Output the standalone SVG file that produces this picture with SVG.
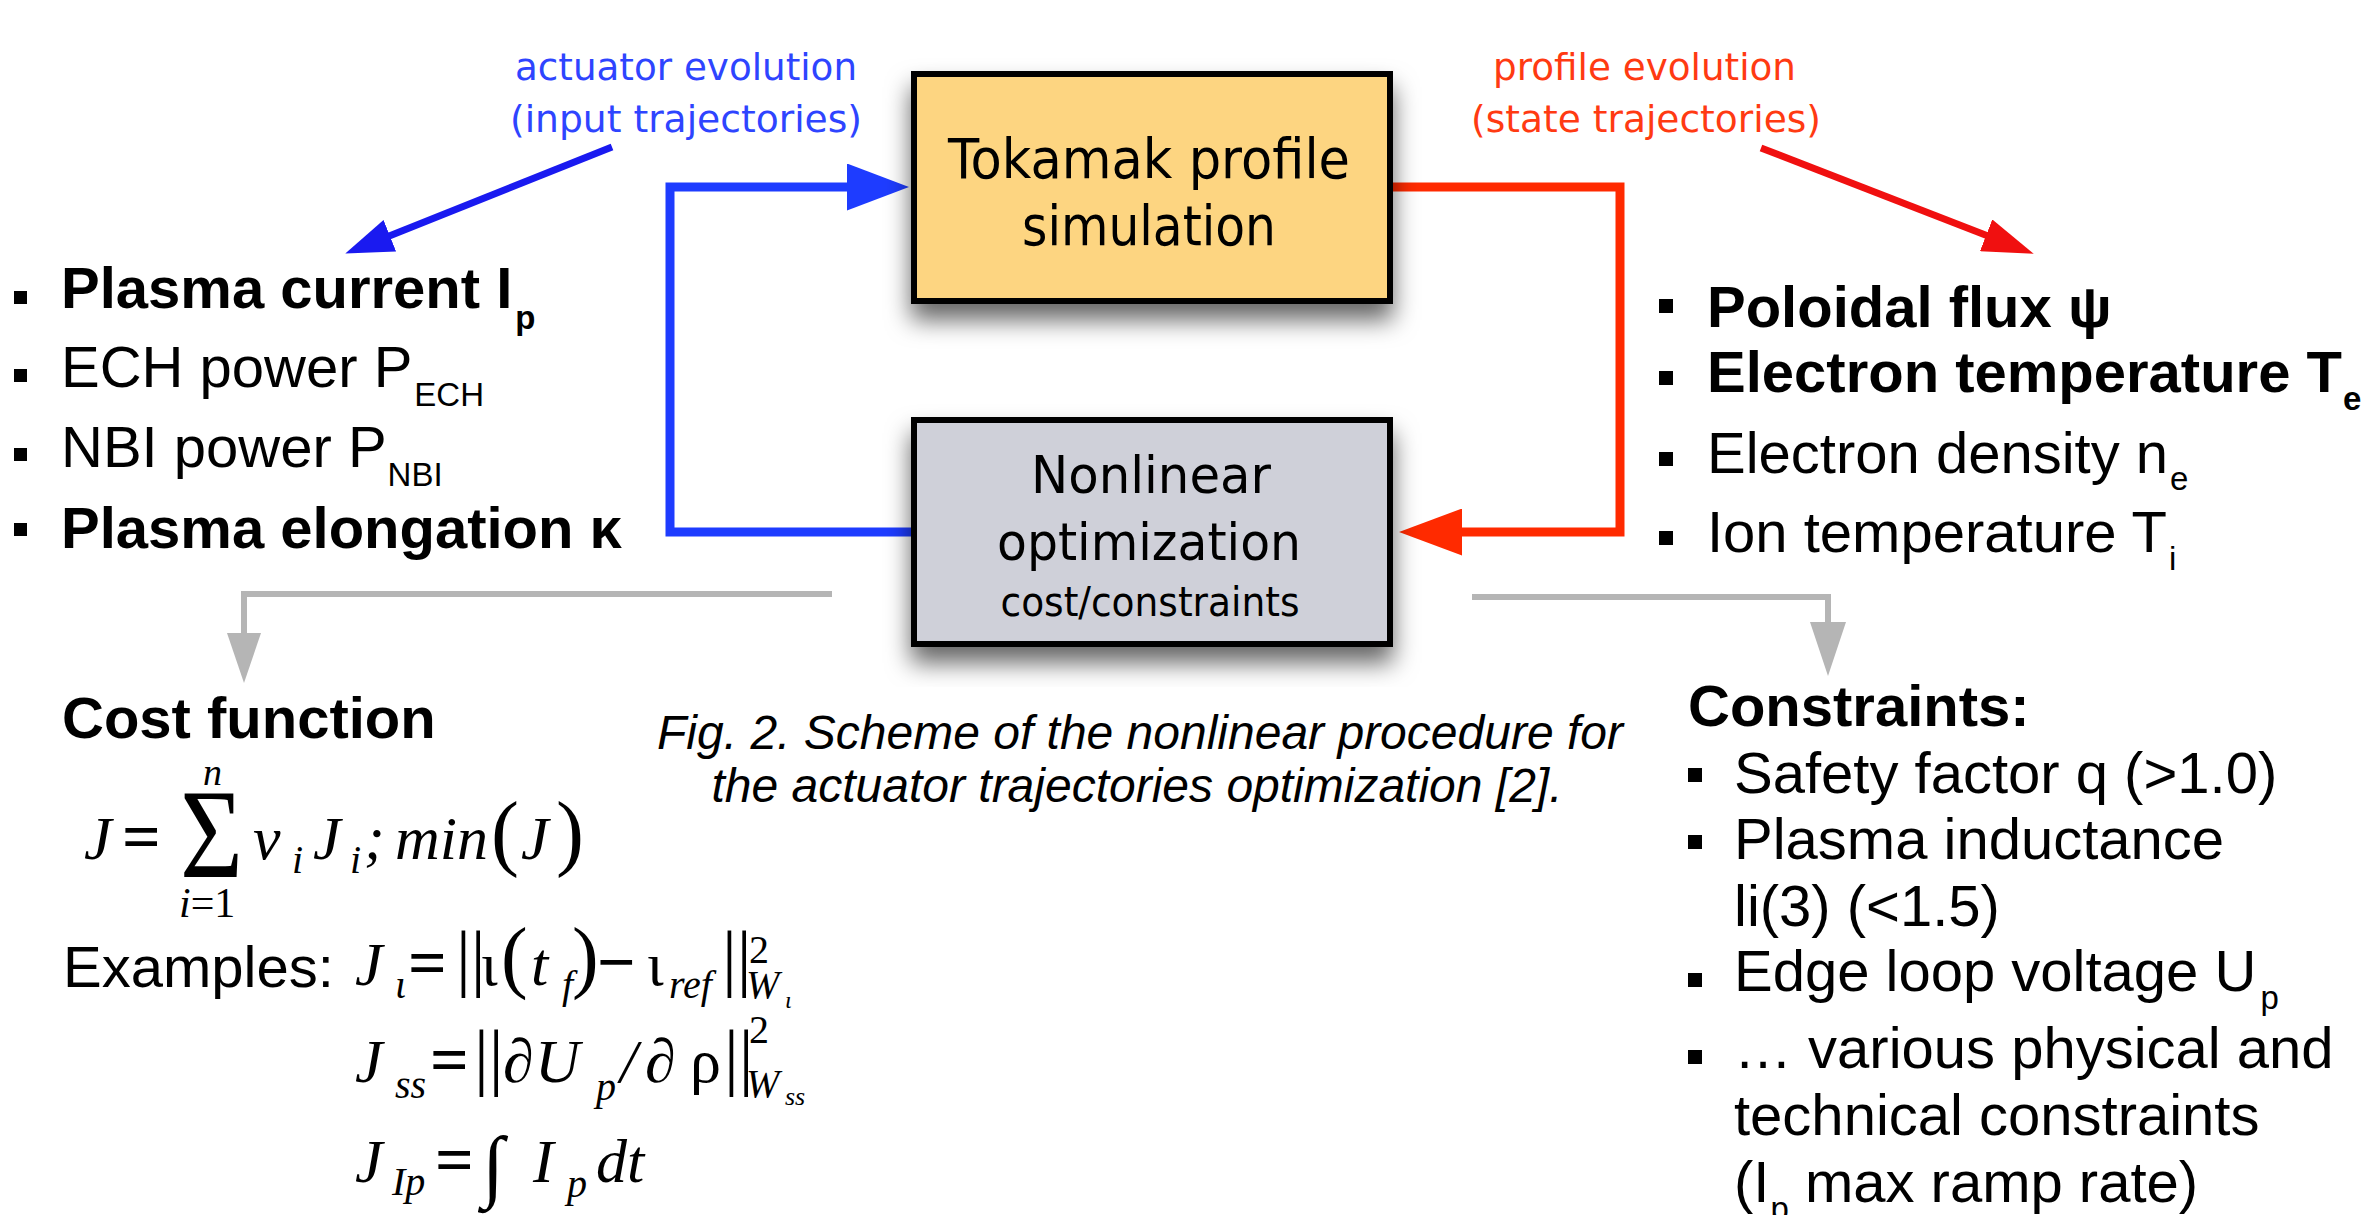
<svg xmlns="http://www.w3.org/2000/svg" width="2378" height="1215" viewBox="0 0 2378 1215">
<defs>
<style>
.sans{font-family:"Liberation Sans",Arial,sans-serif;fill:#000}
.b{font-weight:bold}
.t58{font-size:58px}
.box{font-family:"DejaVu Sans","Liberation Sans",sans-serif;fill:#000;text-anchor:middle}
.lbl{font-family:"DejaVu Sans","Liberation Sans",sans-serif;font-size:38px}
.blue{fill:#2E44FF}
.red{fill:#FF3A12}
.m{font-family:"Liberation Serif","Times New Roman",serif;font-style:italic;fill:#000}
.mu{font-style:normal}
.mb{font-weight:bold}
.node{stroke:#000;stroke-width:6}
.bul{fill:#000}
.cap{font-family:"Liberation Sans",Arial,sans-serif;font-style:italic;font-size:48px;text-anchor:middle;fill:#000}
.wire{fill:none;stroke-linejoin:miter}
</style>
<filter id="shadow" filterUnits="userSpaceOnUse" x="860" y="40" width="590" height="647">
<feDropShadow dx="0" dy="16" stdDeviation="12" flood-color="#000" flood-opacity="0.6"/>
</filter>
<marker id="headBlue" markerUnits="userSpaceOnUse" markerWidth="62" markerHeight="47" refX="2" refY="23.5" orient="auto"><path d="M0,0 L62,23.5 L0,47 z" fill="#1E3CFF"/></marker>
<marker id="headRed" markerUnits="userSpaceOnUse" markerWidth="63" markerHeight="47" refX="2" refY="23.5" orient="auto"><path d="M0,0 L63,23.5 L0,47 z" fill="#FF2A00"/></marker>
<marker id="headBlueThin" markerUnits="userSpaceOnUse" markerWidth="48" markerHeight="34" refX="2" refY="17" orient="auto"><path d="M0,0 L48,17 L0,34 z" fill="#1A1AF0"/></marker>
<marker id="headRedThin" markerUnits="userSpaceOnUse" markerWidth="51" markerHeight="34" refX="2" refY="17" orient="auto"><path d="M0,0 L51,17 L0,34 z" fill="#F01010"/></marker>
<marker id="headGrayL" markerUnits="userSpaceOnUse" markerWidth="50" markerHeight="34" refX="1" refY="17" orient="auto"><path d="M0,0 L50,17 L0,34 z" fill="#B5B5B5"/></marker>
<marker id="headGrayR" markerUnits="userSpaceOnUse" markerWidth="54" markerHeight="36" refX="1" refY="18" orient="auto"><path d="M0,0 L54,18 L0,36 z" fill="#B5B5B5"/></marker>
</defs>
<rect x="0" y="0" width="2378" height="1215" fill="#fff"/>

<g id="connectors">
<polyline class="wire" points="911,532 670,532 670,187 849,187" stroke="#1E3CFF" stroke-width="9" marker-end="url(#headBlue)"/>
<polyline class="wire" points="1393,187 1620,187 1620,532 1460,532" stroke="#FF2A00" stroke-width="9" marker-end="url(#headRed)"/>
<line x1="612" y1="147" x2="388" y2="236.5" stroke="#1A1AF0" stroke-width="7" marker-end="url(#headBlueThin)"/>
<line x1="1761" y1="148" x2="1988" y2="236" stroke="#F01010" stroke-width="7" marker-end="url(#headRedThin)"/>
<polyline class="wire" points="832,594 244,594 244,634" stroke="#B5B5B5" stroke-width="6" marker-end="url(#headGrayL)"/>
<polyline class="wire" points="1472,597 1828,597 1828,623" stroke="#B5B5B5" stroke-width="6" marker-end="url(#headGrayR)"/>
</g>

<g id="node-tokamak">
<rect class="node" x="914" y="74" width="476" height="227" fill="#FDD581" filter="url(#shadow)"/>
<text class="box" x="1149" y="178" font-size="56" textLength="402" lengthAdjust="spacingAndGlyphs">Tokamak profile</text>
<text class="box" x="1149" y="245" font-size="56" textLength="254" lengthAdjust="spacingAndGlyphs">simulation</text>
</g>

<g id="node-optimizer">
<rect class="node" x="914" y="420" width="476" height="224" fill="#CFD0D9" filter="url(#shadow)"/>
<text class="box" x="1151" y="493" font-size="52" textLength="240" lengthAdjust="spacingAndGlyphs">Nonlinear</text>
<text class="box" x="1149" y="560" font-size="52" textLength="304" lengthAdjust="spacingAndGlyphs">optimization</text>
<text class="box" x="1150" y="616" font-size="40" textLength="299" lengthAdjust="spacingAndGlyphs">cost/constraints</text>
</g>

<g id="label-actuator">
<text class="lbl blue" x="515" y="80" textLength="342" lengthAdjust="spacingAndGlyphs">actuator evolution</text>
<text class="lbl blue" x="510" y="132" textLength="352" lengthAdjust="spacingAndGlyphs">(input trajectories)</text>
</g>

<g id="label-profile">
<text class="lbl red" x="1493" y="80" textLength="303" lengthAdjust="spacingAndGlyphs">profile evolution</text>
<text class="lbl red" x="1471" y="132" textLength="350" lengthAdjust="spacingAndGlyphs">(state trajectories)</text>
</g>

<g id="input-list">
<rect class="bul" x="14" y="291" width="13" height="13"/>
<rect class="bul" x="14" y="369" width="13" height="13"/>
<rect class="bul" x="14" y="448" width="13" height="13"/>
<rect class="bul" x="14" y="523" width="13" height="13"/>
<text class="sans b t58" x="61" y="308">Plasma current I<tspan dx="3" dy="21" font-size="33">p</tspan></text>
<text class="sans t58" x="61" y="387">ECH power P<tspan dx="2" dy="19" font-size="33">ECH</tspan></text>
<text class="sans t58" x="61" y="467">NBI power P<tspan dx="1" dy="19" font-size="33">NBI</tspan></text>
<text class="sans b t58" x="61" y="548">Plasma elongation κ</text>
</g>

<g id="state-list">
<rect class="bul" x="1659" y="299" width="14" height="14"/>
<rect class="bul" x="1659" y="371" width="14" height="14"/>
<rect class="bul" x="1659" y="452" width="14" height="14"/>
<rect class="bul" x="1659" y="531" width="14" height="14"/>
<text class="sans b t58" x="1707" y="327">Poloidal flux ψ</text>
<text class="sans b t58" x="1707" y="392">Electron temperature T<tspan dx="1" dy="18" font-size="33">e</tspan></text>
<text class="sans t58" x="1707" y="473">Electron density n<tspan dx="2" dy="17" font-size="33">e</tspan></text>
<text class="sans t58" x="1707" y="552">Ion temperature T<tspan dx="2" dy="18" font-size="33">i</tspan></text>
</g>

<g id="cost-function">
<text class="sans b t58" x="62" y="738">Cost function</text>
<text class="m" x="84" y="859" font-size="62">J</text>
<text class="m mu mb" x="122" y="859" font-size="68">=</text>
<text class="m mu" x="180" y="877" font-size="127" textLength="63" lengthAdjust="spacingAndGlyphs">Σ</text>
<text class="m" x="203" y="785" font-size="38">n</text>
<text class="m" x="179" y="917" font-size="42">i<tspan class="mu">=1</tspan></text>
<text class="m" x="253" y="859" font-size="62">v</text>
<text class="m" x="292" y="873" font-size="40">i</text>
<text class="m" x="313" y="859" font-size="62">J</text>
<text class="m" x="350" y="873" font-size="40">i</text>
<text class="m" x="364" y="859" font-size="62">;</text>
<text class="m" x="395" y="859" font-size="62">min</text>
<text class="m mu" x="491" y="860" font-size="84">(</text>
<text class="m" x="521" y="859" font-size="62">J</text>
<text class="m mu" x="556" y="860" font-size="84">)</text>

<text class="sans t58" x="63" y="987">Examples:</text>
<text class="m" x="355" y="985" font-size="62">J</text>
<text class="m" x="395" y="998" font-size="40">ι</text>
<text class="m mu mb" x="408" y="985" font-size="68">=</text>
<text class="m mu" x="456" y="982" font-size="74">||</text>
<text class="m mu" x="481" y="985" font-size="62">ι</text>
<text class="m mu" x="501" y="983" font-size="80">(</text>
<text class="m" x="531" y="985" font-size="62">t</text>
<text class="m" x="562" y="998" font-size="40">f</text>
<text class="m mu" x="572" y="983" font-size="80">)</text>
<text class="m mu mb" x="597" y="985" font-size="68">−</text>
<text class="m mu" x="647" y="985" font-size="62">ι</text>
<text class="m" x="669" y="998" font-size="40">ref</text>
<text class="m mu" x="722" y="982" font-size="74">||</text>
<text class="m mu" x="749" y="963" font-size="40">2</text>
<text class="m" x="746" y="998" font-size="40">W</text>
<text class="m" x="785" y="1008" font-size="24">ι</text>

<text class="m" x="355" y="1082" font-size="62">J</text>
<text class="m" x="395" y="1098" font-size="40">ss</text>
<text class="m mu mb" x="430" y="1082" font-size="68">=</text>
<text class="m mu" x="474" y="1081" font-size="74">||</text>
<text class="m" x="503" y="1082" font-size="62">∂</text>
<text class="m" x="535" y="1082" font-size="62">U</text>
<text class="m" x="596" y="1100" font-size="40">p</text>
<text class="m" x="620" y="1082" font-size="62">/</text>
<text class="m" x="645" y="1082" font-size="62">∂</text>
<text class="m mu" x="690" y="1082" font-size="62">ρ</text>
<text class="m mu" x="724" y="1081" font-size="74">||</text>
<text class="m mu" x="749" y="1043" font-size="40">2</text>
<text class="m" x="746" y="1097" font-size="40">W</text>
<text class="m" x="785" y="1105" font-size="26">ss</text>

<text class="m" x="355" y="1182" font-size="62">J</text>
<text class="m" x="392" y="1195" font-size="40">Ip</text>
<text class="m mu mb" x="435" y="1182" font-size="68">=</text>
<text class="m mu" x="482" y="1192" font-size="80">∫</text>
<text class="m" x="533" y="1182" font-size="62">I</text>
<text class="m" x="567" y="1197" font-size="40">p</text>
<text class="m" x="596" y="1182" font-size="62">dt</text>
</g>

<g id="caption">
<text class="cap" x="1140" y="749">Fig. 2. Scheme of the nonlinear procedure for</text>
<text class="cap" x="1137" y="802">the actuator trajectories optimization [2].</text>
</g>

<g id="constraints">
<text class="sans b t58" x="1688" y="726">Constraints:</text>
<rect class="bul" x="1688" y="768" width="14" height="14"/>
<rect class="bul" x="1688" y="835" width="14" height="14"/>
<rect class="bul" x="1688" y="973" width="14" height="14"/>
<rect class="bul" x="1688" y="1050" width="14" height="14"/>
<text class="sans t58" x="1734" y="793">Safety factor q (&gt;1.0)</text>
<text class="sans t58" x="1734" y="859">Plasma inductance</text>
<text class="sans t58" x="1734" y="926">li(3) (&lt;1.5)</text>
<text class="sans t58" x="1734" y="991">Edge loop voltage U<tspan dx="4" dy="18" font-size="33">p</tspan></text>
<text class="sans t58" x="1734" y="1068">… various physical and</text>
<text class="sans t58" x="1734" y="1135">technical constraints</text>
<text class="sans t58" x="1734" y="1202">(I<tspan dx="1" dy="18" font-size="33">p</tspan><tspan dy="-18"> max ramp rate)</tspan></text>
</g>
</svg>
